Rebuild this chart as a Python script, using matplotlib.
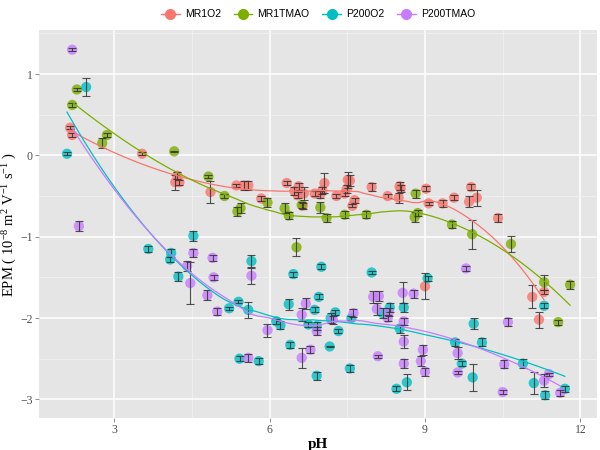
import numpy as np
import matplotlib
matplotlib.use("Agg")
import matplotlib.pyplot as plt
from matplotlib.lines import Line2D

# MR1O2
mr1o2_ph = [2.15, 2.19, 3.54, 4.18, 4.22, 4.26, 4.86, 5.36, 5.50, 5.59, 5.84, 6.33,
            6.48, 6.56, 6.66, 6.54, 6.64, 6.87, 6.98, 7.02, 7.06, 7.29, 7.45, 7.51,
            7.55, 7.49, 7.60, 7.64, 7.97, 8.28, 8.51, 8.53, 8.49, 9.02, 9.07, 9.34,
            9.56, 9.85, 9.89, 10.00, 10.41, 9.00, 11.07, 11.30, 11.20]
mr1o2_epm = [0.34, 0.25, 0.02, -0.33, -0.25, -0.33, -0.45, -0.37, -0.37, -0.37, -0.53, -0.34,
             -0.44, -0.38, -0.47, -0.49, -0.62, -0.47, -0.48, -0.43, -0.34, -0.50, -0.47, -0.30,
             -0.31, -0.41, -0.62, -0.55, -0.39, -0.50, -0.38, -0.41, -0.52, -0.41, -0.59, -0.59,
             -0.52, -0.57, -0.39, -0.52, -0.77, -1.61, -1.74, -1.68, -2.02]
mr1o2_err = [0.02, 0.02, 0.02, 0.09, 0.04, 0.03, 0.13, 0.02, 0.06, 0.06, 0.03, 0.02,
             0.05, 0.04, 0.08, 0.04, 0.04, 0.03, 0.04, 0.04, 0.12, 0.02, 0.03, 0.10,
             0.07, 0.05, 0.02, 0.03, 0.05, 0.03, 0.05, 0.04, 0.06, 0.03, 0.02, 0.04,
             0.03, 0.07, 0.04, 0.10, 0.05, 0.16, 0.14, 0.03, 0.10]

# MR1TMAO
mr1tmao_ph = [2.28, 2.19, 2.86, 2.77, 4.16, 4.82, 5.13, 5.38, 5.44, 5.96, 6.29, 6.37,
              6.62, 6.52, 6.98, 7.10, 7.45, 7.87, 8.82, 8.80, 8.86, 9.52, 9.91, 10.66,
              11.30, 11.80, 11.57]
mr1tmao_epm = [0.81, 0.62, 0.25, 0.15, 0.05, -0.26, -0.50, -0.69, -0.65, -0.58, -0.65, -0.74,
               -0.61, -1.13, -0.64, -0.77, -0.73, -0.73, -0.47, -0.76, -0.71, -0.85, -0.97, -1.09,
               -1.56, -1.59, -2.05]
mr1tmao_err = [0.02, 0.03, 0.03, 0.06, 0.01, 0.02, 0.02, 0.05, 0.06, 0.05, 0.06, 0.04,
               0.04, 0.11, 0.07, 0.05, 0.04, 0.04, 0.05, 0.06, 0.04, 0.04, 0.18, 0.10,
               0.09, 0.05, 0.03]

# P200O2
p200o2_ph = [2.09, 2.46, 3.66, 4.10, 4.08, 4.53, 4.24, 5.22, 5.40, 5.59, 5.65, 5.42,
             5.79, 6.13, 6.21, 6.46, 6.40, 6.37, 6.75, 6.87, 6.91, 6.95, 7.00, 6.91,
             7.16, 7.18, 7.27, 7.33, 7.55, 7.58, 7.97, 8.18, 8.32, 8.45, 8.65, 8.51,
             8.59, 9.05, 9.58, 9.71, 9.94, 10.10, 9.92, 10.89, 11.10, 11.32, 11.70, 11.30]
p200o2_epm = [0.02, 0.84, -1.15, -1.20, -1.28, -0.99, -1.49, -1.88, -1.80, -1.90, -1.30, -2.50,
              -2.53, -2.04, -2.09, -1.46, -2.33, -1.83, -2.08, -1.90, -2.10, -1.74, -1.37, -2.71,
              -2.35, -2.00, -1.93, -2.16, -2.62, -2.00, -1.44, -1.94, -1.87, -2.87, -2.79, -2.13,
              -1.87, -1.51, -2.30, -2.56, -2.07, -2.30, -2.73, -2.56, -2.80, -2.95, -2.87, -1.85]
p200o2_err = [0.02, 0.11, 0.04, 0.05, 0.03, 0.06, 0.05, 0.02, 0.02, 0.10, 0.07, 0.03,
              0.04, 0.03, 0.05, 0.03, 0.04, 0.07, 0.03, 0.03, 0.05, 0.03, 0.03, 0.05,
              0.01, 0.06, 0.03, 0.03, 0.04, 0.03, 0.02, 0.06, 0.05, 0.03, 0.10, 0.05,
              0.05, 0.03, 0.04, 0.03, 0.07, 0.05, 0.17, 0.05, 0.14, 0.05, 0.04, 0.03]

# P200TMAO
p200tmao_ph = [2.19, 2.32, 4.53, 4.41, 4.47, 4.90, 4.92, 4.80, 4.99, 5.65, 5.59, 5.96,
               6.62, 6.70, 6.62, 6.79, 6.91, 7.22, 7.62, 8.00, 8.11, 8.07, 8.09, 8.30,
               8.28, 8.57, 8.78, 8.59, 8.59, 8.59, 8.96, 8.92, 9.00, 9.63, 9.63, 10.60,
               10.53, 10.50, 11.39, 11.30, 11.61, 9.79]
p200tmao_epm = [1.30, -0.87, -1.20, -1.36, -1.57, -1.26, -1.50, -1.72, -1.92, -1.48, -2.49, -2.15,
                -1.96, -1.82, -2.49, -2.39, -2.16, -2.02, -1.94, -1.74, -1.73, -1.89, -2.47, -1.93,
                -2.00, -1.69, -1.70, -2.04, -2.29, -2.56, -2.39, -2.53, -2.66, -2.43, -2.67, -2.05,
                -2.57, -2.91, -2.69, -2.77, -2.92, -1.39]
p200tmao_err = [0.02, 0.06, 0.05, 0.06, 0.26, 0.04, 0.03, 0.06, 0.04, 0.10, 0.05, 0.08,
                0.08, 0.07, 0.12, 0.04, 0.05, 0.05, 0.05, 0.07, 0.06, 0.07, 0.02, 0.05,
                0.04, 0.13, 0.05, 0.04, 0.08, 0.05, 0.06, 0.06, 0.05, 0.07, 0.02, 0.05,
                0.05, 0.03, 0.02, 0.08, 0.04, 0.03]

series = [
    ("MR1O2", mr1o2_ph, mr1o2_epm, mr1o2_err, "#F8766D"),
    ("MR1TMAO", mr1tmao_ph, mr1tmao_epm, mr1tmao_err, "#7CAE00"),
    ("P200O2", p200o2_ph, p200o2_epm, p200o2_err, "#00BFC4"),
    ("P200TMAO", p200tmao_ph, p200tmao_epm, p200tmao_err, "#C77CFF"),
]


def loess(x, y, span=0.75, n=80):
    # local quadratic fit with tricube weights (like ggplot's default smoother)
    x = np.asarray(x, float)
    y = np.asarray(y, float)
    xs = np.linspace(x.min(), x.max(), n)
    q = int(np.ceil(span * len(x)))
    ys = []
    for x0 in xs:
        d = np.abs(x - x0)
        h = np.sort(d)[q - 1] * 1.0001
        w = np.clip(1 - (d / h) ** 3, 0, None) ** 3
        c = np.polyfit(x - x0, y, 2, w=np.sqrt(w))
        ys.append(c[-1])
    return xs, np.array(ys)


fig = plt.figure(figsize=(6, 4.5), dpi=100)
ax = fig.add_axes([0.065, 0.071, 0.93, 0.862])
ax.set_facecolor("#E5E5E5")
for s in ax.spines.values():
    s.set_visible(False)

ax.set_xlim(1.55, 12.32)
ax.set_ylim(-3.23, 1.54)
ax.set_xticks([3, 6, 9, 12])
ax.set_yticks([-3, -2, -1, 0, 1])
ax.set_xticks([4.5, 7.5, 10.5], minor=True)
ax.set_yticks([-2.5, -1.5, -0.5, 0.5, 1.5], minor=True)
ax.grid(which="major", color="white", linewidth=1.1)
ax.grid(which="minor", color="#F2F2F2", linewidth=0.5)
ax.set_axisbelow(True)
ax.tick_params(which="major", length=3, width=0.6, color="#7F7F7F", labelsize=8.5,
               labelcolor="#4D4D4D", pad=1.5)
ax.tick_params(which="minor", length=0)
for lab in ax.get_xticklabels() + ax.get_yticklabels():
    lab.set_family("Liberation Serif")

handles = []
for name, ph, epm, err, col in series:
    ax.scatter(ph, epm, s=55, color=col, alpha=0.8, edgecolors="none", zorder=2)
    ax.errorbar(ph, epm, yerr=err, fmt="none", ecolor="#333333", elinewidth=0.8,
                capsize=3, capthick=0.8, alpha=0.85, zorder=3)
    xs, ys = loess(ph, epm)
    ax.plot(xs, ys, color=col, linewidth=0.9, zorder=4)
    handles.append(Line2D([], [], color=col, marker="o", markersize=7, linewidth=1.0,
                          label=name))

ax.set_xlabel("pH", family="Liberation Serif", fontweight="bold", fontsize=11, labelpad=1)
ax.set_ylabel(r"EPM ( $\mathregular{10^{-8}}$ $\mathregular{m^{2}}$ $\mathregular{V^{-1}}$ $\mathregular{s^{-1}}$ )",
              family="Liberation Serif", fontsize=10.5, labelpad=1)

leg = fig.legend(handles=handles, loc="upper center", bbox_to_anchor=(0.53, 1.0), ncol=4,
                 frameon=False, prop={"family": "Liberation Sans", "size": 7.5},
                 handlelength=1.8, columnspacing=1.2, handletextpad=0.5)

fig.savefig("out.png", dpi=100)
